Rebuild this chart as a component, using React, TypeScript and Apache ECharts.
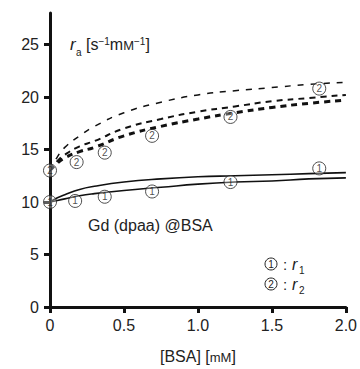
import React, { useEffect, useRef } from "react";
import * as echarts from "echarts";

const xTicks = [0, 0.5, 1.0, 1.5, 2.0];
const yTicks = [0, 5, 10, 15, 20, 25];

// measured points
const r1X = [0, 0.17, 0.37, 0.69, 1.22, 1.82];
const r1Y = [10.0, 10.1, 10.5, 11.0, 11.9, 13.2];
const r2X = [0, 0.18, 0.37, 0.69, 1.22, 1.82];
const r2Y = [13.0, 13.8, 14.7, 16.3, 18.1, 20.8];

// fitted curves
const curveX = [0, 0.05, 0.1, 0.2, 0.3, 0.5, 0.75, 1.0, 1.25, 1.5, 1.75, 2.0];
const solidUpper = [10, 10.4, 10.7, 11.2, 11.5, 11.9, 12.2, 12.4, 12.5, 12.6, 12.7, 12.8];
const solidLower = [10, 10.15, 10.3, 10.6, 10.8, 11.1, 11.4, 11.7, 11.9, 12.0, 12.2, 12.3];
const dashTop = [13, 14.3, 15.2, 16.3, 17.2, 18.5, 19.5, 20.2, 20.6, 20.9, 21.2, 21.4];
const dashMid = [13, 13.9, 14.5, 15.3, 15.8, 17.0, 17.9, 18.6, 19.1, 19.6, 19.9, 20.2];
const dashLow = [13, 13.7, 14.2, 14.8, 15.2, 16.3, 17.2, 17.9, 18.5, 19.0, 19.4, 19.7];

const pairs = (xs: number[], ys: number[]) => xs.map((x, i) => [x, ys[i]]);

const FONT = "Liberation Sans, Arial, sans-serif";

export default function App() {
  const ref = useRef<HTMLDivElement>(null);
  useEffect(() => {
    const chart = echarts.init(ref.current!, null, { renderer: "svg" });
    const lineSeries = (data: number[], type: any, width: number) => ({
      type: "line",
      data: pairs(curveX, data),
      smooth: true,
      symbol: "none",
      silent: true,
      lineStyle: { color: "#111", width, type },
      z: 2,
    });
    const markerSeries = (xs: number[], ys: number[], label: string) => ({
      type: "scatter",
      data: pairs(xs, ys),
      symbol: "circle",
      symbolSize: 13,
      itemStyle: { color: "rgba(255,255,255,0.4)", borderColor: "#222", borderWidth: 1 },
      label: {
        show: true,
        position: "inside",
        formatter: label,
        fontSize: 10,
        color: "#222",
        fontFamily: FONT,
      },
      z: 3,
    });
    const legendRow = (y: number, num: string, sub: string) => [
      { type: "circle", shape: { cx: 271, cy: y, r: 6 }, style: { fill: "#fff", stroke: "#222", lineWidth: 1 } },
      { type: "text", x: 271, y: y, style: { text: num, fontSize: 10, fill: "#222", align: "center", verticalAlign: "middle", fontFamily: FONT } },
      { type: "text", x: 283, y: y, style: { text: ":", fontSize: 15, fill: "#222", verticalAlign: "middle", fontFamily: FONT } },
      { type: "text", x: 292, y: y, style: { text: "r", fontSize: 16, fontStyle: "italic", fill: "#222", verticalAlign: "middle", fontFamily: FONT } },
      { type: "text", x: 299, y: y + 6, style: { text: sub, fontSize: 10, fill: "#222", verticalAlign: "middle", fontFamily: FONT } },
    ];
    chart.setOption({
      animation: false,
      grid: { left: 50, right: 14, top: 13, bottom: 62, containLabel: false },
      xAxis: {
        type: "value",
        min: 0,
        max: 2,
        interval: 0.5,
        name: "[BSA] [{s|mM}]",
        nameLocation: "middle",
        nameGap: 41,
        nameTextStyle: {
          fontSize: 16,
          color: "#222",
          fontFamily: FONT,
          rich: { s: { fontSize: 13, color: "#222", fontFamily: FONT, verticalAlign: "bottom" } },
        },
        axisLine: { show: true, lineStyle: { color: "#111", width: 3 } },
        axisTick: { show: true, length: 6, lineStyle: { color: "#111", width: 3 }, customValues: xTicks },
        axisLabel: {
          fontSize: 16,
          color: "#222",
          fontFamily: FONT,
          margin: 10,
          customValues: xTicks,
          formatter: (v: number) => (v === 0 ? "0" : v.toFixed(1)),
        },
        splitLine: { show: false },
      },
      yAxis: {
        type: "value",
        min: 0,
        max: 28,
        interval: 5,
        axisLine: { show: true, lineStyle: { color: "#111", width: 3 } },
        axisTick: { show: true, length: 6, lineStyle: { color: "#111", width: 3 }, customValues: yTicks },
        axisLabel: {
          fontSize: 16,
          color: "#222",
          fontFamily: FONT,
          margin: 11,
          customValues: yTicks,
        },
        splitLine: { show: false },
      },
      series: [
        lineSeries(solidUpper, "solid", 1.6),
        lineSeries(solidLower, "solid", 1.6),
        lineSeries(dashTop, [6, 7], 1.5),
        lineSeries(dashMid, [6, 5], 2),
        lineSeries(dashLow, [6, 5], 3),
        markerSeries(r1X, r1Y, "1"),
        markerSeries(r2X, r2Y, "2"),
      ],
      graphic: [
        { type: "text", x: 70, y: 44, style: { text: "r", fontSize: 17, fontStyle: "italic", fill: "#222", verticalAlign: "middle", fontFamily: FONT } },
        { type: "text", x: 76, y: 52, style: { text: "a", fontSize: 10, fill: "#222", verticalAlign: "middle", fontFamily: FONT } },
        {
          type: "text",
          x: 86,
          y: 44,
          style: {
            text: "[s{sup|−1}m{sm|M}{sup|−1}]",
            fontSize: 16,
            fill: "#222",
            verticalAlign: "middle",
            fontFamily: FONT,
            rich: {
              sup: { fontSize: 10, fill: "#222", verticalAlign: "top", padding: [0, 0, 6, 0], fontFamily: FONT },
              sm: { fontSize: 13, fill: "#222", verticalAlign: "bottom", fontFamily: FONT },
            },
          },
        },
        { type: "text", x: 88, y: 225, style: { text: "Gd (dpaa) @BSA", fontSize: 16, fill: "#222", verticalAlign: "middle", fontFamily: FONT } },
        ...legendRow(264, "1", "1"),
        ...legendRow(284, "2", "2"),
      ],
    });
    return () => chart.dispose();
  }, []);
  return <div ref={ref} style={{ position: "absolute", left: 0, top: 0, width: 360, height: 369 }} />;
}
